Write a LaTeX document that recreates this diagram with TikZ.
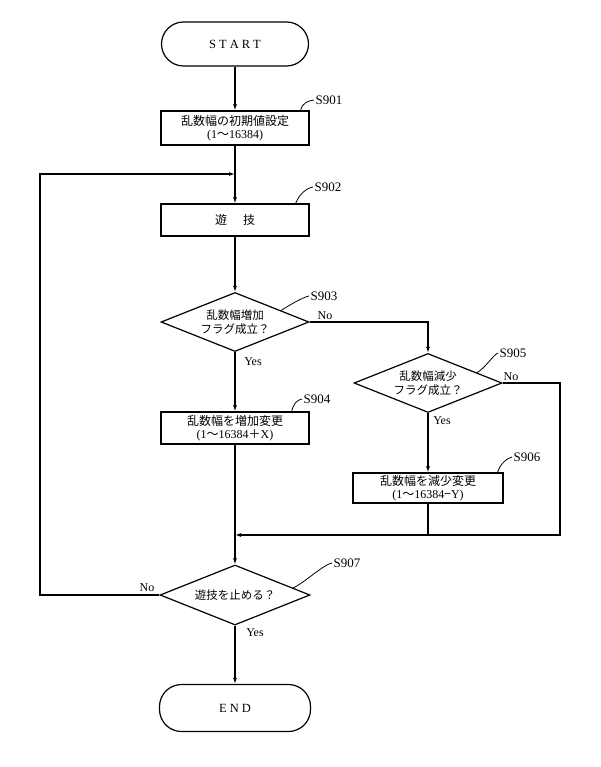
\documentclass[tikz,border=0pt]{standalone}
\usepackage{fontspec}
\setmainfont{Liberation Serif}
\newfontfamily\cjk{Noto Sans CJK JP}
\usepackage{tikz}
\usetikzlibrary{calc, arrows.meta, shapes.geometric}

\begin{document}
\begin{tikzpicture}[x=1pt, y=-1pt, line width=1.2pt,
  term/.style={draw, rectangle, rounded corners=22pt, minimum width=147pt, minimum height=44pt, font=\fontsize{12.5}{14}\selectfont},
  box/.style={draw, rectangle, minimum width=148pt, minimum height=32pt, inner sep=1pt, align=center, font=\fontsize{12}{13}\selectfont},
  decide/.style={draw, diamond, aspect=2.5, minimum width=148pt, minimum height=59pt, inner sep=0pt, align=center, font=\cjk\fontsize{11.5}{14}\selectfont},
  tag/.style={inner sep=1pt, font=\fontsize{13}{15}\selectfont},
  ans/.style={inner sep=1pt, font=\fontsize{12}{14}\selectfont},
  flow/.style={-{Latex[length=6pt, width=4pt]}},
  lead/.style={line width=0.8pt}]
  \useasboundingbox (0,0) rectangle (600,767);

  % main column
  \node[term] (start) at (235,44) {S\kern3pt T\kern3pt A\kern3pt R\kern3pt T};
  \node[box, minimum height=34pt] (s901) at (235,128) {{\cjk 乱数幅の初期値設定}\\(1{\cjk 〜}16384)};
  \coordinate (j902) at (235,174);
  \node[box] (s902) at (235,220) {\cjk 遊\hspace{16pt}技};
  \node[decide] (d903) at (235,322) {乱数幅増加\\フラグ成立？};
  \node[box] (s904) at (235,428) {{\cjk 乱数幅を増加変更}\\(1{\cjk 〜}16384{\cjk ＋}X)};
  \coordinate (j907) at (235,535);
  \node[decide, minimum width=150pt, minimum height=60pt] (d907) at (235,595) {遊技を止める？};
  \node[term, minimum width=151pt, minimum height=47pt] (end) at (235,708) {E\kern3pt N\kern3pt D};

  % right branch
  \node[decide] (d905) at (428,383) {乱数幅減少\\フラグ成立？};
  \node[box, minimum width=150pt, minimum height=30pt] (s906) at (428,488) {{\cjk 乱数幅を減少変更}\\(1{\cjk 〜}16384{\cjk −}Y)};
  \coordinate (r905) at (560,383);
  \coordinate (l907) at (40,595);

  % flow lines
  \draw[flow] (start) -- (s901);
  \draw[flow] (s901) -- (s902);
  \draw[flow] (s902) -- (d903);
  \draw[flow] (d903) -- (s904);
  \draw[flow] (s904) -- (d907);
  \draw[flow] (d907) -- (end);
  \draw[flow] (d903.east) -| (d905.north);
  \draw[flow] (d905) -- (s906);
  \draw (s906) -- (s906 |- j907);
  \draw[flow] (d905.east) -- (r905) |- (j907);
  \draw[flow] (d907.west) -- (l907) |- (j902);

  % step tags
  \node[tag] (l901) at (329,100) {S901};
  \node[tag] (l902) at (328,187) {S902};
  \node[tag] (l903) at (324,296) {S903};
  \node[tag] (l904) at (317,399) {S904};
  \node[tag] (l905) at (513,353) {S905};
  \node[tag] (l906) at (527,457) {S906};
  \node[tag] (l907) at (347,563) {S907};
  \draw[lead] ($(s901.north east)+(-9,0)$) .. controls +(2,-8) and +(-6,1) .. (l901.west);
  \draw[lead] ($(s902.north east)+(-14,0)$) .. controls +(4,-10) and +(-6,1) .. (l902.west);
  \draw[lead] (d903.14) .. controls +(6,-4) and +(-6,1) .. (l903.west);
  \draw[lead] ($(s904.north east)+(-18,0)$) .. controls +(2,-8) and +(-5,1) .. (l904.west);
  \draw[lead] (d905.12) .. controls +(8,-4) and +(-5,2) .. (l905.west);
  \draw[lead] ($(s906.north east)+(-6,0)$) .. controls +(2,-8) and +(-5,1) .. (l906.west);
  \draw[lead] (d907.7) .. controls +(10,-4) and +(-8,1) .. (l907.west);

  % branch answers
  \node[ans] (no903) at (325,316) {No};
  \node[ans] (yes903) at (253,362) {Yes};
  \node[ans] (no905) at (511,377) {No};
  \node[ans] (yes905) at (442,421) {Yes};
  \node[ans] (no907) at (147,588) {No};
  \node[ans] (yes907) at (255,633) {Yes};
\end{tikzpicture}
\end{document}
